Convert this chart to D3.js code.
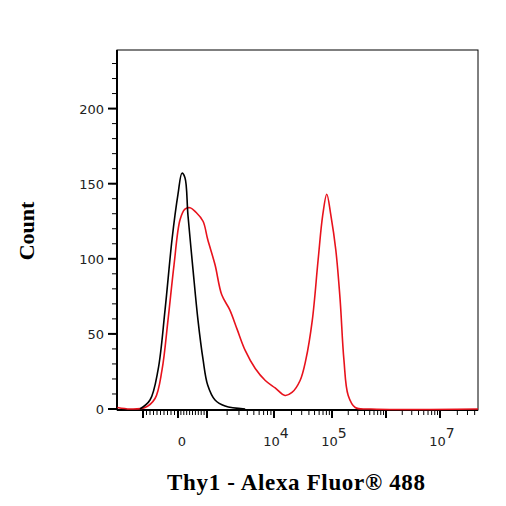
<!DOCTYPE html>
<html><head><meta charset="utf-8">
<script src="https://cdn.jsdelivr.net/npm/d3@7"></script>
<style>body{margin:0;background:#fff}</style>
</head><body>
<svg id="chart" width="506" height="506"></svg>
<script>
// x in display units: 0 = zero, 3..7 = decades 10^3..10^7
const blackX = [-3.26,-2.4,-1.71,-1.11,-0.51,0,0.41,0.72,1.03,1.55,2.07,2.59,3.01,3.12,3.27,3.57]
const blackY = [0,6,26,66,113,143,157,154,129,93,59,33,16,6,2,0]
const redX = [-5.2,-4.11,-2.83,-1.97,-1.37,-0.86,-0.34,0.21,0.72,1.24,1.86,2.59,3.01,3.12,3.22,3.34,3.45,3.57,3.72,3.87,4.02,4.19,4.31,4.45,4.55,4.66,4.76,4.84,4.91,4.98,5.07,5.15,5.22,5.30,5.43,5.72,7.66]
const redY = [1,0,1,7,26,59,96,126,133,134,131,125,113,96,76,66,53,39,27,19,14,9,11,19,33,59,99,129,143,129,106,73,33,9,1,0,0]
const yTicks = [0,50,100,150,200]
const xMajor = [-3,0,3,4,5,6,7]
const xLabels = {0:'0',4:'4',5:'5',7:'7'}

const svg = d3.select('#chart')
const pL = 117, pR = 478, pT = 50, pB = 410

const x = d3.scaleLinear()
  .domain([-5.23,0,3,4,5,6,7,7.66])
  .range([pL,178,207,274,332,386,440,pR])
const y = d3.scaleLinear().domain([0,239]).range([409,pT])

// frame
svg.append('rect').attr('x',pL).attr('y',pT).attr('width',pR-pL).attr('height',pB-pT)
  .attr('fill','none').attr('stroke','#000').attr('stroke-width',1)
svg.append('line').attr('x1',pL).attr('x2',pL).attr('y1',pT).attr('y2',pB).attr('stroke','#000').attr('stroke-width',2)
svg.append('line').attr('x1',pL).attr('x2',pR).attr('y1',pB).attr('y2',pB).attr('stroke','#000').attr('stroke-width',2)

// y ticks
const yMinor = d3.range(0,240,10)
svg.selectAll('.ymin').data(yMinor).enter().append('line')
  .attr('x1',pL-5).attr('x2',pL).attr('y1',d=>y(d)).attr('y2',d=>y(d)).attr('stroke','#000')
svg.selectAll('.ymaj').data(yTicks).enter().append('line')
  .attr('x1',pL-9).attr('x2',pL).attr('y1',d=>y(d)).attr('y2',d=>y(d)).attr('stroke','#000').attr('stroke-width',2)
svg.selectAll('.ylab').data(yTicks).enter().append('text')
  .attr('x',pL-13).attr('y',d=>y(d)+5).attr('text-anchor','end')
  .attr('font-family','DejaVu Sans').attr('font-size',13).attr('fill','#222').text(d=>d)

// x ticks
let xMinor = []
for (let v=-3; v<3; v+=0.3) xMinor.push(v)
for (let d=3; d<7.6; d++) for (let k=2;k<10;k++) { const u=d+Math.log10(k); if (u<7.66) xMinor.push(u) }
svg.selectAll('.xmin').data(xMinor).enter().append('line')
  .attr('x1',d=>x(d)).attr('x2',d=>x(d)).attr('y1',pB).attr('y2',pB+5).attr('stroke','#000')
svg.selectAll('.xmaj').data(xMajor).enter().append('line')
  .attr('x1',d=>x(d)).attr('x2',d=>x(d)).attr('y1',pB).attr('y2',pB+8).attr('stroke','#000').attr('stroke-width',2)
Object.keys(xLabels).forEach(k=>{
  const u = +k
  const t = svg.append('text').attr('y',446).attr('font-family','DejaVu Sans').attr('font-size',13).attr('fill','#222').attr('text-anchor','middle')
  if (u===0) { t.attr('x',x(0)+4).text('0') }
  else {
    t.attr('x',x(u)+2)
    t.append('tspan').text('10')
    t.append('tspan').attr('dy',-8).attr('font-size',14).text(xLabels[k])
  }
})

// curves
const line = d3.line().x(d=>x(d[0])).y(d=>y(d[1])).curve(d3.curveCatmullRom)
svg.append('path').datum(redX.map((v,i)=>[v,redY[i]])).attr('d',line)
  .attr('fill','none').attr('stroke','#e8121c').attr('stroke-width',1.6)
svg.append('path').datum(blackX.map((v,i)=>[v,blackY[i]])).attr('d',line)
  .attr('fill','none').attr('stroke','#000').attr('stroke-width',1.6)

// axis titles
svg.append('text').attr('transform','translate(34,231) rotate(-90)').attr('text-anchor','middle')
  .attr('font-family','Liberation Serif').attr('font-weight','bold').attr('font-size',22).text('Count')
svg.append('text').attr('x',296).attr('y',490).attr('text-anchor','middle')
  .attr('font-family','Liberation Serif').attr('font-weight','bold').attr('font-size',23)
  .attr('textLength',258).text('Thy1 - Alexa Fluor® 488')
</script>
</body></html>
